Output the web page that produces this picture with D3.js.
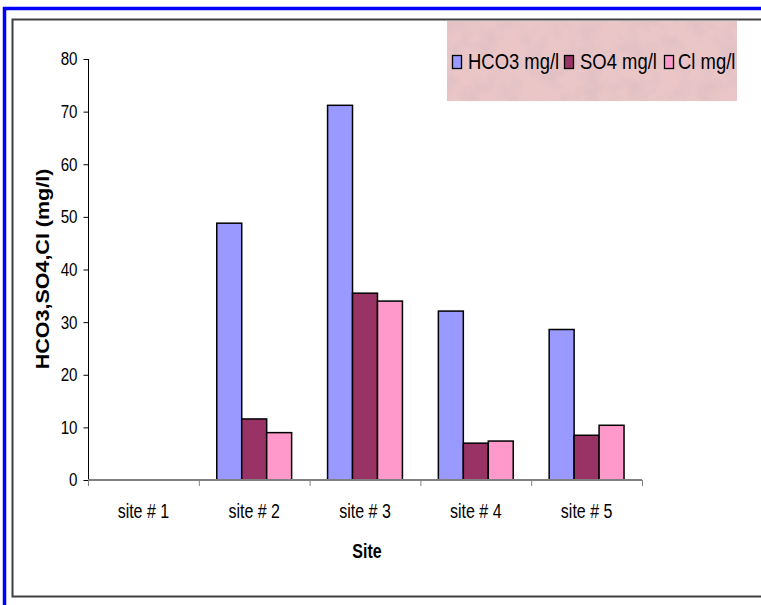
<!DOCTYPE html>
<html>
<head>
<meta charset="utf-8">
<script src="https://cdn.jsdelivr.net/npm/d3@7"></script>
<style>
  html, body { margin: 0; padding: 0; background: #ffffff; }
  svg { display: block; font-family: "Liberation Sans", Arial, Helvetica, sans-serif; }
</style>
</head>
<body>
<svg id="chart" width="761" height="605"></svg>
<script>
// Sites along the x axis
const sites = ["site # 1", "site # 2", "site # 3", "site # 4", "site # 5"];
// Series names (legend order)
const seriesNames = ["HCO3 mg/l", "SO4 mg/l", "Cl mg/l"];
// Concentrations in mg/l per site (site # 1 has no measurements)
const hco3 = [null, 48.8, 71.2, 32.1, 28.6];
const so4  = [null, 11.6, 35.5, 7.0, 8.5];
const cl   = [null, 9.0, 34.0, 7.4, 10.4];
// Y axis ticks
const yTicks = [0, 10, 20, 30, 40, 50, 60, 70, 80];

const seriesValues = [hco3, so4, cl];
const colors = ["#9999ff", "#993366", "#ff99cc"];
const SX = 0.82; // narrow text rendering

const svg = d3.select("#chart");

// Mottled texture for the legend panel
const defs = svg.append("defs");
const f = defs.append("filter").attr("id", "mottle")
  .attr("x", 0).attr("y", 0).attr("width", 1).attr("height", 1);
f.append("feTurbulence").attr("type", "fractalNoise")
  .attr("baseFrequency", "0.05").attr("numOctaves", 3).attr("seed", 7).attr("result", "n");
f.append("feColorMatrix").attr("in", "n").attr("type", "matrix")
  .attr("values", "0 0 0 0 0.72  0 0 0 0 0.52  0 0 0 0 0.55  1.8 0 0 0 -0.72");

// Outer blue border and inner chart frame
svg.append("rect").attr("x", 4.5).attr("y", 8.5).attr("width", 800).attr("height", 700)
  .attr("fill", "none").attr("stroke", "#0000ff").attr("stroke-width", 3.5);
svg.append("rect").attr("x", 12.5).attr("y", 19.5).attr("width", 800).attr("height", 577)
  .attr("fill", "none").attr("stroke", "#404040").attr("stroke-width", 2);

// Scales
const x0 = d3.scaleBand().domain(sites).range([88, 642]).padding(0);
const x1 = d3.scaleBand().domain(seriesNames).range([0, x0.bandwidth()])
  .paddingInner(0).paddingOuter(0.72);
const y = d3.scaleLinear().domain([0, 80]).range([480, 59]);

function narrowText(g, xp, yp, txt) {
  return g.append("text")
    .attr("transform", `translate(${xp},${yp}) scale(${SX},1)`)
    .text(txt);
}

// Y axis
const yAxis = svg.append("g").attr("transform", "translate(88.5,0)")
  .call(d3.axisLeft(y).tickValues(yTicks).tickSize(5).tickPadding(9).tickFormat(d3.format("d")));
yAxis.select(".domain").attr("stroke", "#000").attr("stroke-width", 1)
  .attr("d", `M0,${y(80)}V${y(0)}`);
yAxis.selectAll(".tick line").attr("stroke", "#000");
yAxis.selectAll(".tick text")
  .attr("font-size", 18.5).attr("fill", "#000")
  .attr("font-family", "'Liberation Sans', Arial, sans-serif")
  .attr("transform", `scale(${SX},1)`)
  .attr("x", -11 / SX);

// Bars
const groups = svg.append("g").selectAll("g")
  .data(sites).join("g")
  .attr("transform", d => `translate(${x0(d)},0)`);
groups.selectAll("rect")
  .data((d, i) => seriesNames.map((s, k) => ({ s, k, v: seriesValues[k][i] })).filter(e => e.v != null))
  .join("rect")
  .attr("x", e => x1(e.s))
  .attr("y", e => y(e.v))
  .attr("width", x1.bandwidth())
  .attr("height", e => y(0) - y(e.v))
  .attr("fill", e => colors[e.k])
  .attr("stroke", "#000").attr("stroke-width", 1.5);

// X axis (gray baseline with ticks at category boundaries)
const xg = svg.append("g");
xg.append("line").attr("x1", x0.range()[0]).attr("x2", x0.range()[1])
  .attr("y1", y(0)).attr("y2", y(0))
  .attr("stroke", "#808080").attr("stroke-width", 2);
const bounds = sites.map(s => x0(s)).concat([x0(sites[sites.length - 1]) + x0.bandwidth()]);
xg.selectAll("line.tk").data(bounds).join("line").attr("class", "tk")
  .attr("x1", d => d + 0.5).attr("x2", d => d + 0.5)
  .attr("y1", y(0)).attr("y2", y(0) + 6)
  .attr("stroke", "#808080").attr("stroke-width", 1);

// Category labels
const catG = svg.append("g").attr("font-size", 19.5).attr("text-anchor", "middle").attr("fill", "#000");
sites.forEach(s => narrowText(catG, x0(s) + x0.bandwidth() / 2, 518, s));

// Axis titles
const tg = svg.append("g").attr("font-weight", "bold").attr("fill", "#000").attr("text-anchor", "middle");
narrowText(tg, 367, 558, "Site").attr("font-size", 19.5);
tg.append("text")
  .attr("transform", `translate(49,269) scale(${SX},1) rotate(-90)`)
  .attr("font-size", 21.5)
  .text("HCO3,SO4,Cl (mg/l)");

// Legend
const lg = svg.append("g");
lg.append("rect").attr("x", 447).attr("y", 21).attr("width", 290).attr("height", 80).attr("fill", "#eac6c7");
lg.append("rect").attr("x", 447).attr("y", 21).attr("width", 290).attr("height", 80)
  .attr("fill", "#fff").attr("filter", "url(#mottle)");
const swatchX = [452, 564, 664];
const textX = [468, 580, 678];
seriesNames.forEach((s, k) => {
  lg.append("rect").attr("x", swatchX[k] + 0.5).attr("y", 55.5).attr("width", 9).attr("height", 13)
    .attr("fill", colors[k]).attr("stroke", "#000").attr("stroke-width", 1.3);
  narrowText(lg, textX[k], 69, s).attr("font-size", 22.5).attr("fill", "#000");
});
</script>
</body>
</html>
